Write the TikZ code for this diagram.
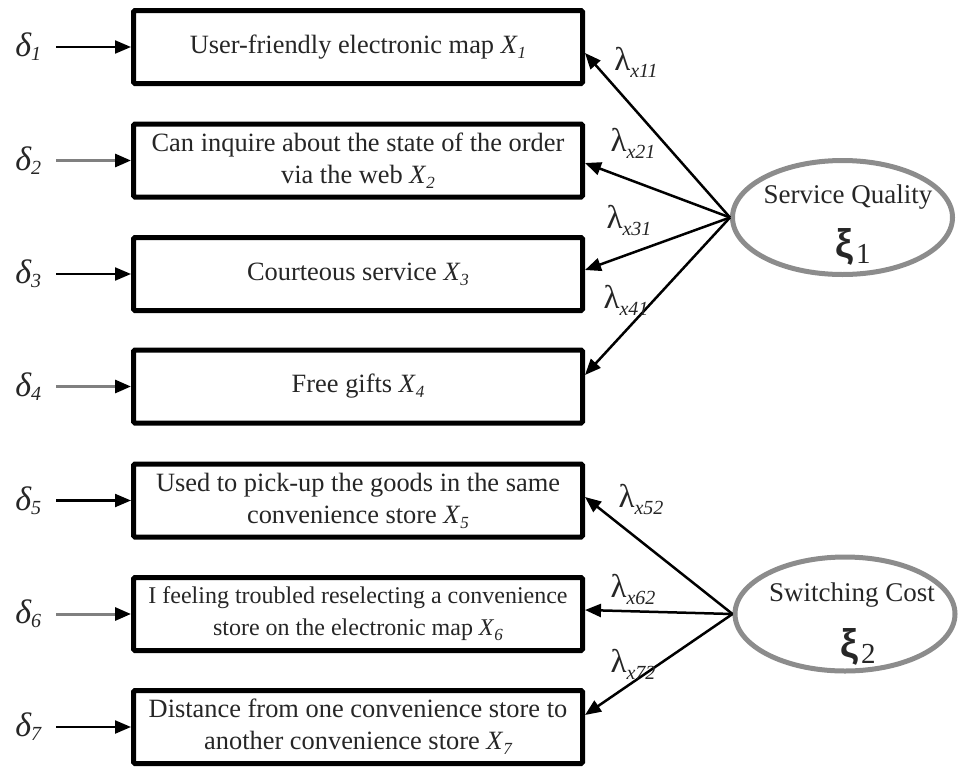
\documentclass[tikz,border=0pt]{standalone}
\usepackage{fontspec}
\setmainfont{Liberation Serif}
\newfontfamily\xifont{Liberation Sans}
\usetikzlibrary{arrows.meta,shapes.geometric}

\newcommand\mydelta[1]{{\fontsize{34}{34}\selectfont\itshape δ}\raisebox{-4pt}{\fontsize{20}{20}\selectfont\itshape #1}}
\newcommand\mylam[1]{{\fontsize{33}{33}\selectfont λ}\raisebox{-7pt}{\fontsize{20}{20}\selectfont\itshape x#1}}
\newcommand\myxi[1]{{\xifont\bfseries\fontsize{40}{40}\selectfont ξ}\kern3pt\raisebox{-6pt}{\fontsize{29}{29}\selectfont #1}}
\newcommand\myX[1]{\textit{X}\raisebox{-5pt}{\fontsize{17}{17}\selectfont\itshape #1}}

\begin{document}
\begin{tikzpicture}[x=1pt,y=-1pt,
  box/.style={draw=black, line width=5pt, rounded corners=1.5pt, minimum width=449pt,
    minimum height=73pt, inner sep=2pt, align=center, text=black!85,
    font=\fontsize{26.4}{32}\selectfont},
  dnode/.style={inner sep=0pt, minimum width=56pt, anchor=west, text=black!85},
  darr/.style={line width=2.2pt, -{Triangle[length=16pt,width=13pt]}},
  darrg/.style={line width=3pt, draw=black!50, -{Triangle[length=16pt,width=13pt,color=black]}},
  larr/.style={line width=2.5pt, -{Triangle[length=16pt,width=13pt]}},
  ell/.style={ellipse, draw=black!45, line width=5pt, minimum width=220pt, minimum height=114pt, inner sep=0pt},
  etext/.style={inner sep=0pt, text=black!85, font=\fontsize{27}{27}\selectfont},
  lam/.style={inner sep=0pt, text=black!85}
]
\useasboundingbox (0,0) rectangle (958,766);

% indicator boxes
\node[box] (b1) at (358,47)    {User-friendly electronic map \myX{1}};
\node[box] (b2) at (358,160.5) {Can inquire about the state of the order\\via the web \myX{2}};
\node[box] (b3) at (358,274)   {Courteous service \myX{3}};
\node[box] (b4) at (358,386.5) {Free gifts \myX{4}};
\node[box] (b5) at (358,500.5) {Used to pick-up the goods in the same\\convenience store \myX{5}};
\node[box, font=\fontsize{24}{32}\selectfont] (b6) at (358,614) {I feeling troubled reselecting a convenience\\store on the electronic map \myX{6}};
\node[box] (b7) at (358,727)   {Distance from one convenience store to\\another convenience store \myX{7}};

% error terms
\node[dnode] (d1) at (0,47)    {\mydelta{1}};
\node[dnode] (d2) at (0,160.5) {\mydelta{2}};
\node[dnode] (d3) at (0,274)   {\mydelta{3}};
\node[dnode] (d4) at (0,386.5) {\mydelta{4}};
\node[dnode] (d5) at (0,500.5) {\mydelta{5}};
\node[dnode] (d6) at (0,614)   {\mydelta{6}};
\node[dnode] (d7) at (0,727)   {\mydelta{7}};

\draw[darr]  (d1.east) -- (b1.west);
\draw[darrg] (d2.east) -- (b2.west);
\draw[darr]  (d3.east) -- (b3.west);
\draw[darrg] (d4.east) -- (b4.west);
\draw[darr]  (d5.east) -- (b5.west);
\draw[darrg] (d6.east) -- (b6.west);
\draw[darr]  (d7.east) -- (b7.west);

% latent variables
\node[ell] (e1) at (842.5,217.5) {};
\node[etext] (e1t) at (848,197) {Service Quality};
\node[inner sep=0pt, text=black!85] (e1x) at (853,247) {\myxi{1}};

\node[ell] (e2) at (845,614) {};
\node[etext] (e2t) at (852,595) {Switching Cost};
\node[inner sep=0pt, text=black!85] (e2x) at (858,647) {\myxi{2}};

% loadings
\draw[larr] (e1.west) -- ([yshift=-6pt]b1.east);
\draw[larr] (e1.west) -- ([yshift=-2.5pt]b2.east);
\draw[larr] (e1.west) -- ([yshift=4pt]b3.east);
\draw[larr] (e1.west) -- ([yshift=11.5pt]b4.east);
\draw[larr] (e2.west) -- ([yshift=3.5pt]b5.east);
\draw[larr] (e2.west) -- ([yshift=4pt]b6.east);
\draw[larr] (e2.west) -- ([yshift=12pt]b7.east);

\node[lam] (l11) at (636,62)  {\mylam{11}};
\node[lam] (l21) at (633,143) {\mylam{21}};
\node[lam] (l31) at (629,220) {\mylam{31}};
\node[lam] (l41) at (626,300) {\mylam{41}};
\node[lam] (l52) at (641,499) {\mylam{52}};
\node[lam] (l62) at (633,589) {\mylam{62}};
\node[lam] (l72) at (633,664) {\mylam{72}};
\end{tikzpicture}
\end{document}
